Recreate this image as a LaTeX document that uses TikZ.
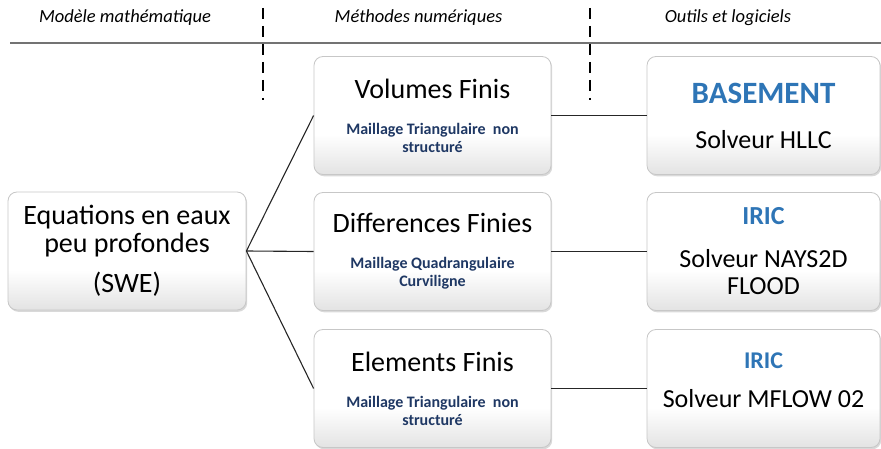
\documentclass[tikz,border=0pt]{standalone}
\usepackage{fontspec}
\setmainfont{Carlito}
\usetikzlibrary{shadows}

\definecolor{sousbleu}{HTML}{1F3864}
\definecolor{logbleu}{HTML}{2E75B6}
\pgfdeclareverticalshading{boitefond}{100bp}{color(0bp)=(black!11); color(25bp)=(black!11);
	color(42bp)=(white); color(100bp)=(white)}
\newcommand{\titrefont}{\fontsize{28}{28}\selectfont}
\newcommand{\soustitre}{\fontsize{16}{18}\selectfont\bfseries\color{sousbleu}}
\newcommand{\logiciel}[1]{\fontsize{#1}{#1}\selectfont\bfseries\color{logbleu}}

\tikzset{
	boite/.style={draw=black!22, line width=0.8pt, rounded corners=9pt,
		shading=boitefond,
		drop shadow={shadow xshift=1.2pt, shadow yshift=-1.8pt, opacity=0.3},
		minimum height=118pt, align=center, inner sep=0pt},
	methode/.style={boite, minimum width=237pt, font=\fontsize{16}{18}\selectfont},
	outil/.style={boite, minimum width=233pt},
	entete/.style={anchor=base, font=\fontsize{18.5}{20}\selectfont\itshape},
	lien/.style={draw=black!85, line width=1.1pt}
}

\begin{document}
\begin{tikzpicture}[x=1pt, y=-1pt]
	\useasboundingbox (0,0) rectangle (881,449);

	% en-tetes des colonnes
	\node [entete] (modele) at (125,22.5) {Modèle mathématique};
	\node [entete] (numerique) at (418.5,22.5) {Méthodes numériques};
	\node [entete] (outils) at (728,22.5) {Outils et logiciels};
	\draw [black!55, line width=1.3pt] (10,43) -- (881,43);
	\draw [dashed, dash pattern=on 11pt off 7pt, line width=1.8pt] (263,8) -- (263,100);
	\draw [dashed, dash pattern=on 11pt off 7pt, line width=1.8pt] (590,8) -- (590,100);

	% modele
	\node [boite, minimum width=238pt, font=\fontsize{28}{28}\selectfont] (swe) at (127,251)
		{Equations en eaux\\peu profondes\\[12pt](SWE)};

	% methodes
	\node [methode] (volumes) at (432.5,115.5)
		{{\titrefont Volumes Finis}\\[18pt]{\soustitre Maillage Triangulaire\ \ non}\\{\soustitre structuré}};
	\node [methode] (differences) at (432.5,251.5)
		{{\titrefont Differences Finies}\\[18pt]{\soustitre Maillage Quadrangulaire}\\{\soustitre Curviligne}};
	\node [methode] (elements) at (432.5,388.5)
		{{\titrefont Elements Finis}\\[18pt]{\soustitre Maillage Triangulaire\ \ non}\\{\soustitre structuré}};

	% logiciels
	\node [outil, font=\fontsize{26}{30}\selectfont] (basement) at (763.5,115.5)
		{{\logiciel{31}BASEMENT}\\[15pt]Solveur HLLC};
	\node [outil, font=\fontsize{26}{27}\selectfont] (nays) at (763.5,251.5)
		{{\logiciel{26}IRIC}\\[16pt]Solveur NAYS2D\\FLOOD};
	\node [outil, font=\fontsize{26}{27}\selectfont] (mflow) at (763.5,388.5)
		{{\logiciel{24}IRIC}\\[12pt]Solveur MFLOW 02\\[-11pt]\mbox{}};

	% liaisons
	\draw [lien] (swe.east) -- (volumes.west);
	\draw [lien] (swe.east) -- (differences.west);
	\draw [lien] (swe.east) -- (elements.west);
	\draw [lien] (volumes.east) -- (basement.west);
	\draw [lien] (differences.east) -- (nays.west);
	\draw [lien] (elements.east) -- (mflow.west);

\end{tikzpicture}
\end{document}
